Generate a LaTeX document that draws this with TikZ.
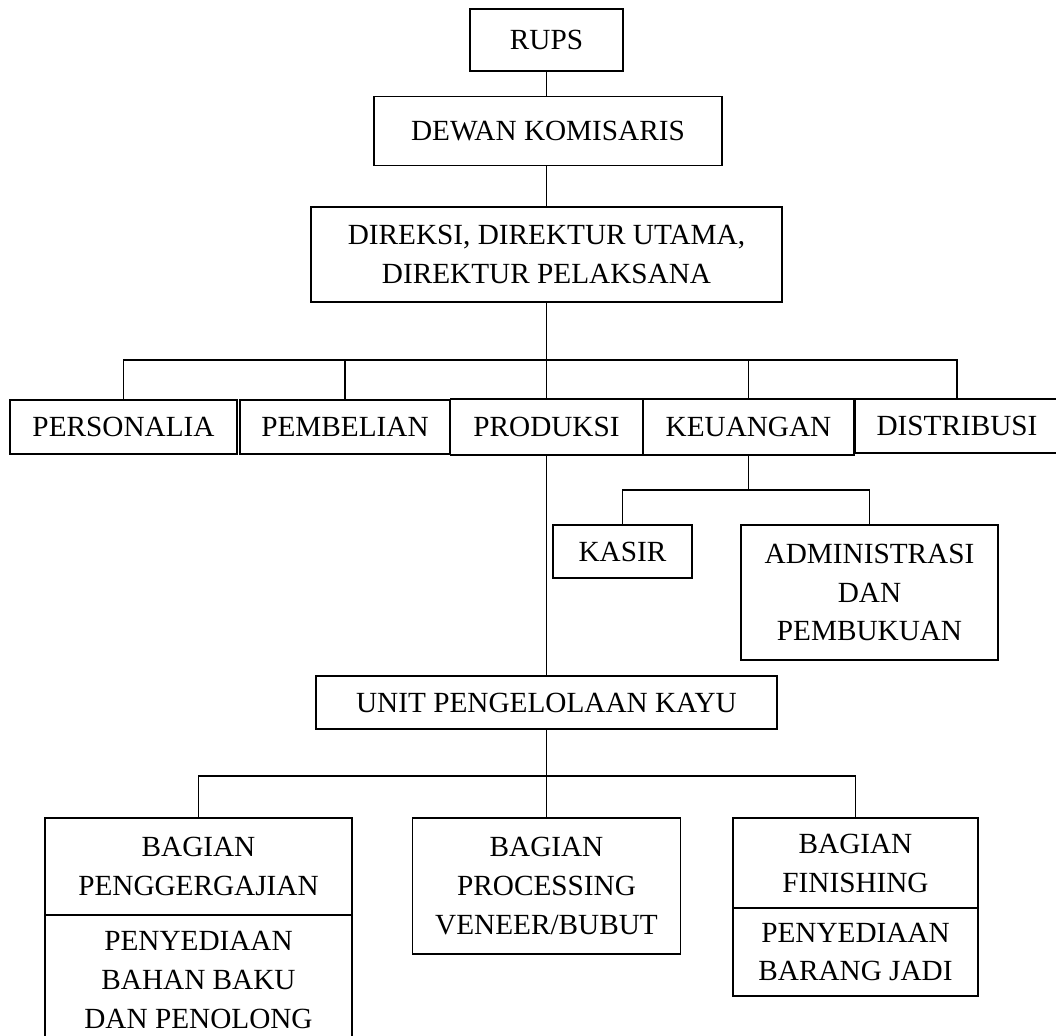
\documentclass[tikz,border=0pt]{standalone}
\usepackage{fontspec}
\setmainfont{Liberation Serif}
\usepackage{tikz}
\usetikzlibrary{positioning}

\tikzset{
  box/.style 2 args={draw, line width=1.3pt, inner sep=0pt, outer sep=0pt, align=center,
    minimum width=#1*0.025cm, minimum height=#2*0.025cm,
    font=\fontsize{20.8}{27.7}\selectfont},
  link/.style={line width=1.3pt}
}

\begin{document}
\begin{tikzpicture}[x=0.025cm, y=-0.025cm]
        \useasboundingbox (0,0) rectangle (1056,1036);

        \node[box={153}{62}] (rups) at (546.5,40) {RUPS};
        \node[box={348}{69}] (dewan) at (548,131) {DEWAN KOMISARIS};
        \node[box={471}{95}] (direksi) at (546.5,254.5) {DIREKSI, DIREKTUR UTAMA,\\DIREKTUR PELAKSANA};

        \node[box={227}{54}] (personalia) at (123.5,427) {PERSONALIA};
        \node[box={210}{54}] (pembelian) at (345,427) {PEMBELIAN};
        \node[box={192}{56}] (produksi) at (546.5,427) {PRODUKSI};
        \node[box={211}{56}] (keuangan) at (748.5,427) {KEUANGAN};
        \node[box={204}{54}] (distribusi) at (957,426) {DISTRIBUSI};

        \node[box={139}{53}] (kasir) at (622.5,551.5) {KASIR};
        \node[box={257}{135}] (admin) at (869.5,592.5) {ADMINISTRASI\\DAN\\PEMBUKUAN};

        \node[box={461}{53}] (unit) at (546.5,702.5) {UNIT PENGELOLAAN KAYU};

        \node[box={307}{97}] (gergaji) at (198.5,866.5) {BAGIAN\\PENGGERGAJIAN};
        \node[box={307}{130}, below=0pt of gergaji] (bahanbaku) {PENYEDIAAN\\BAHAN BAKU\\DAN PENOLONG};
        \node[box={268}{136}] (veneer) at (546.5,886) {BAGIAN\\PROCESSING\\VENEER/BUBUT};
        \node[box={245}{90}] (finishing) at (855.5,863) {BAGIAN\\FINISHING};
        \node[box={245}{88}, below=0pt of finishing] (barangjadi) {PENYEDIAAN\\BARANG JADI};

        \coordinate (bus1) at (546.5,360);
        \coordinate (bus2) at (748.5,490);
        \coordinate (bus3) at (546.5,776);

        \draw[link] (rups) -- (dewan.north -| rups);
        \draw[link] (dewan.south -| rups) -- (direksi.north -| rups);
        \draw[link] (direksi) -- (produksi);
        \draw[link] (personalia.north) |- (bus1) -| (distribusi.north);
        \draw[link] (pembelian.north) -- (pembelian.north |- bus1);
        \draw[link] (keuangan.north) -- (keuangan.north |- bus1);

        \draw[link] (keuangan) -- (bus2);
        \draw[link] (kasir.north) |- (bus2) -| (admin.north);

        \draw[link] (produksi) -- (unit);
        \draw[link] (unit) -- (veneer);
        \draw[link] (gergaji.north) |- (bus3) -| (finishing.north);
      \end{tikzpicture}
\end{document}
